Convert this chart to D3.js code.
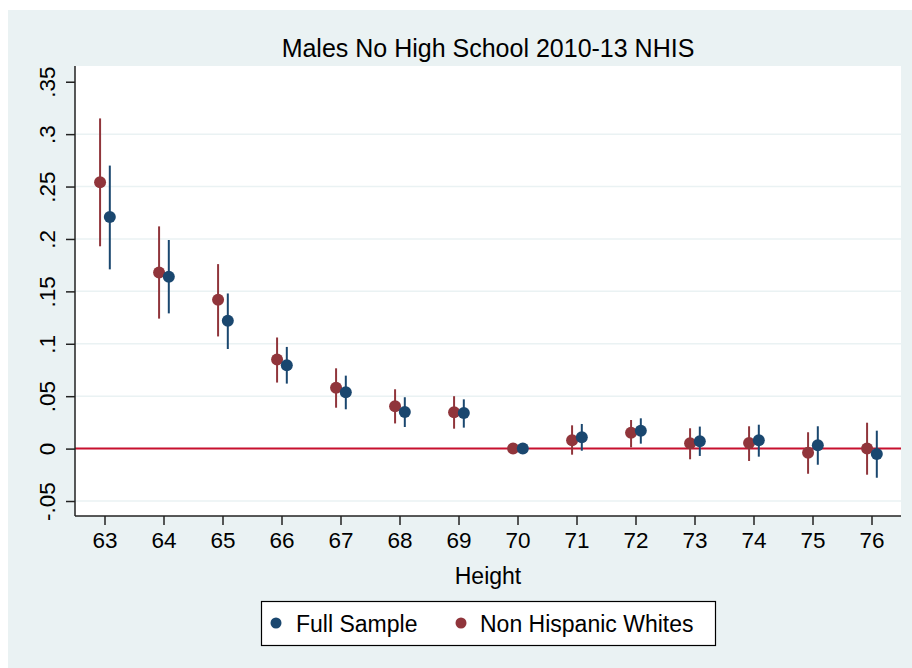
<!DOCTYPE html>
<html>
<head>
<meta charset="utf-8">
<script src="https://cdn.jsdelivr.net/npm/d3@7"></script>
<style>
  body { margin: 0; background: #fff; }
  svg { display: block; font-family: "Liberation Sans", Arial, Helvetica, sans-serif; }
</style>
</head>
<body>
<div id="chart"></div>
<script>
// heights (inches) and coefficient estimates
const heights = [63, 64, 65, 66, 67, 68, 69, 70, 71, 72, 73, 74, 75, 76];

const fullEst = [0.221, 0.164, 0.122, 0.0795, 0.0537, 0.035, 0.034, 0, 0.0108, 0.0171, 0.007, 0.0079, 0.0031, -0.0052];
const fullLo  = [0.171, 0.129, 0.095, 0.062, 0.0375, 0.0206, 0.020, 0, -0.002, 0.0047, -0.007, -0.0077, -0.0154, -0.0278];
const fullHi  = [0.270, 0.199, 0.148, 0.097, 0.0696, 0.049, 0.047, 0, 0.0235, 0.0289, 0.021, 0.0228, 0.0213, 0.0171];

const nhwEst = [0.254, 0.168, 0.142, 0.085, 0.058, 0.0403, 0.0346, 0, 0.0079, 0.0152, 0.005, 0.0053, -0.0039, 0];
const nhwLo  = [0.193, 0.124, 0.107, 0.063, 0.039, 0.024, 0.019, 0, -0.0058, 0.0012, -0.0102, -0.0118, -0.024, -0.0249];
const nhwHi  = [0.315, 0.212, 0.176, 0.106, 0.0766, 0.0566, 0.050, 0, 0.0222, 0.0273, 0.0194, 0.0213, 0.0156, 0.0247];

const yTicks = [-0.05, 0, 0.05, 0.1, 0.15, 0.2, 0.25, 0.3, 0.35];
const yTickLabels = ["-.05", "0", ".05", ".1", ".15", ".2", ".25", ".3", ".35"];

const W = 912, H = 668;
const plot = { left: 75, right: 901, top: 66, bottom: 516 };
const navy = "#1a476f", maroon = "#90353b", bg = "#eaf2f3";

const x = d3.scaleLinear().domain([62.5, 76.5]).range([plot.left, plot.right]);
const y = d3.scaleLinear().domain([-0.0643, 0.365]).range([plot.bottom, plot.top]);

const svg = d3.select("#chart").append("svg")
  .attr("width", W)
  .attr("height", H);

// outer background
svg.append("rect")
  .attr("x", 8).attr("y", 10)
  .attr("width", W - 8).attr("height", H - 10)
  .attr("fill", bg);

// plot region
svg.append("rect")
  .attr("x", plot.left).attr("y", plot.top)
  .attr("width", plot.right - plot.left).attr("height", plot.bottom - plot.top)
  .attr("fill", "#fff");

// gridlines (none at the top tick)
svg.append("g")
  .selectAll("line")
  .data(yTicks.filter(d => d < 0.34))
  .enter().append("line")
  .attr("x1", plot.left).attr("x2", plot.right)
  .attr("y1", d => y(d)).attr("y2", d => y(d))
  .attr("stroke", bg)
  .attr("stroke-width", 1.5);

// zero reference line
svg.append("line")
  .attr("x1", plot.left).attr("x2", plot.right)
  .attr("y1", y(0)).attr("y2", y(0))
  .attr("stroke", "#c8102e")
  .attr("stroke-width", 2);

// axes
const yAxis = svg.append("g")
  .attr("transform", "translate(" + plot.left + ",0)")
  .call(d3.axisLeft(y).tickValues(yTicks).tickSize(9).tickFormat((d, i) => yTickLabels[i]));
yAxis.select(".domain").attr("d", "M0," + plot.top + "V" + plot.bottom);
yAxis.selectAll(".tick text")
  .attr("x", null).attr("dy", null)
  .attr("transform", "translate(-28,0) rotate(-90)")
  .attr("text-anchor", "middle")
  .attr("dy", "0.36em");

const xAxis = svg.append("g")
  .attr("transform", "translate(0," + plot.bottom + ")")
  .call(d3.axisBottom(x).tickValues(heights).tickSize(9).tickFormat(d3.format("d")));
xAxis.select(".domain").attr("d", "M" + plot.left + ",0H" + plot.right);
xAxis.selectAll(".tick text").attr("y", 32).attr("dy", 0);

svg.selectAll(".domain, .tick line").attr("stroke", "#222").attr("stroke-width", 1.5);
svg.selectAll(".tick text").attr("font-size", "22.5px").attr("fill", "#000")
  .attr("font-family", "'Liberation Sans', Arial, sans-serif");

// series: error bars and dots
function drawSeries(est, lo, hi, offset, color) {
  const g = svg.append("g");
  g.selectAll("line")
    .data(heights.map((h, i) => ({ h: h, lo: lo[i], hi: hi[i] })).filter(d => d.hi > d.lo))
    .enter().append("line")
    .attr("x1", d => x(d.h + offset)).attr("x2", d => x(d.h + offset))
    .attr("y1", d => y(d.lo)).attr("y2", d => y(d.hi))
    .attr("stroke", color)
    .attr("stroke-width", 2);
  g.selectAll("circle")
    .data(heights.map((h, i) => ({ h: h, v: est[i] })))
    .enter().append("circle")
    .attr("cx", d => x(d.h + offset))
    .attr("cy", d => y(d.v))
    .attr("r", 6)
    .attr("fill", color);
}
drawSeries(nhwEst, nhwLo, nhwHi, -0.075, maroon);
drawSeries(fullEst, fullLo, fullHi, 0.09, navy);

// title
svg.append("text")
  .attr("x", (plot.left + plot.right) / 2)
  .attr("y", 57)
  .attr("text-anchor", "middle")
  .style("font-size", "25px")
  .text("Males No High School 2010-13 NHIS");

// x label
svg.append("text")
  .attr("x", (plot.left + plot.right) / 2)
  .attr("y", 584)
  .attr("text-anchor", "middle")
  .style("font-size", "23px")
  .text("Height");

// legend
const legend = svg.append("g");
legend.append("rect")
  .attr("x", 261.5).attr("y", 601.5)
  .attr("width", 454).attr("height", 44)
  .attr("fill", "#fff")
  .attr("stroke", "#000")
  .attr("stroke-width", 1.2);
const items = [
  { label: "Full Sample", color: navy, dot: 276, text: 296 },
  { label: "Non Hispanic Whites", color: maroon, dot: 461, text: 480 }
];
items.forEach(it => {
  legend.append("circle")
    .attr("cx", it.dot).attr("cy", 623)
    .attr("r", 5.5)
    .attr("fill", it.color);
  legend.append("text")
    .attr("x", it.text).attr("y", 632)
    .style("font-size", "23px")
    .text(it.label);
});
</script>
</body>
</html>
